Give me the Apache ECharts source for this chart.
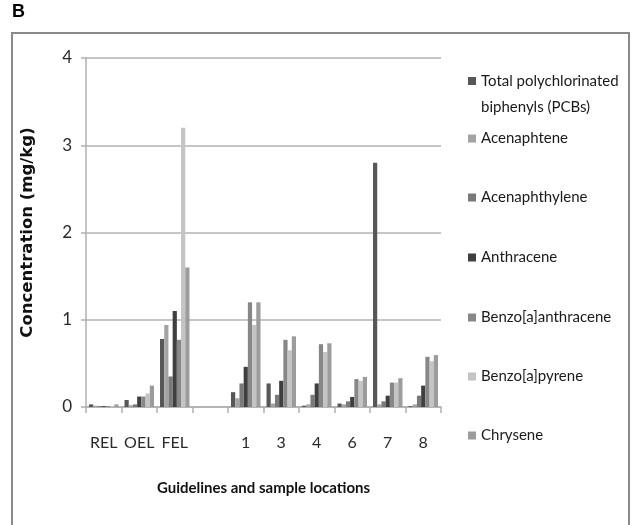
<!DOCTYPE html>
<html>
<head>
<meta charset="utf-8">
<script src="https://cdn.jsdelivr.net/npm/echarts@6/dist/echarts.min.js"></script>
<style>
html,body{margin:0;padding:0;background:#fff;}
#chart{width:632px;height:525px;}
</style>
</head>
<body>
<div id="chart"></div>
<script>
var categories = ['REL', 'OEL', 'FEL', '', '1', '3', '4', '6', '7', '8'];
var seriesNames = ['Total polychlorinated biphenyls (PCBs)', 'Acenaphtene', 'Acenaphthylene', 'Anthracene', 'Benzo[a]anthracene', 'Benzo[a]pyrene', 'Chrysene'];
var pcbs            = [0.03, 0.08, 0.78, null, 0.17, 0.27, 0.015, 0.04, 2.8, 0.01];
var acenaphtene     = [0.015, 0.02, 0.94, null, 0.10, 0.04, 0.03, 0.03, 0.03, 0.03];
var acenaphthylene  = [0.01, 0.03, 0.35, null, 0.27, 0.14, 0.14, 0.065, 0.065, 0.13];
var anthracene      = [0.01, 0.12, 1.10, null, 0.46, 0.30, 0.27, 0.115, 0.13, 0.245];
var benzoAnthracene = [0.01, 0.12, 0.77, null, 1.20, 0.77, 0.72, 0.32, 0.28, 0.575];
var benzoPyrene     = [0.01, 0.155, 3.2, null, 0.94, 0.65, 0.63, 0.30, 0.28, 0.525];
var chrysene        = [0.03, 0.245, 1.60, null, 1.20, 0.81, 0.73, 0.345, 0.33, 0.595];
var yTicks = [0, 1, 2, 3, 4];
var colors = ['#575757', '#a3a3a3', '#7a7a7a', '#3f3f3f', '#878787', '#c4c4c4', '#9c9c9c'];
var values = [pcbs, acenaphtene, acenaphthylene, anthracene, benzoAnthracene, benzoPyrene, chrysene];

var FONT = 'Lato, "Open Sans", sans-serif';
var legendTops = [37, 126, 185, 245, 305, 364, 423];

var chart = echarts.init(document.getElementById('chart'), null, {renderer: 'canvas'});

var legends = seriesNames.map(function (name, i) {
  var l = {
    data: [name],
    left: 463,
    top: legendTops[i],
    orient: 'vertical',
    icon: 'rect',
    itemWidth: 8,
    itemHeight: 8,
    itemGap: 0,
    selectedMode: false,
    textStyle: {fontFamily: FONT, fontSize: 15, color: '#1a1a1a'}
  };
  if (i === 0) {
    l.formatter = function () { return '\nTotal polychlorinated\nbiphenyls (PCBs)'; };
    l.textStyle.lineHeight = 26;
  }
  return l;
});

var option = {
  animation: false,
  backgroundColor: '#ffffff',
  graphic: [
    {type: 'rect', shape: {x: 12, y: 33, width: 617, height: 520}, style: {fill: 'none', stroke: '#8a8a8a', lineWidth: 2}, silent: true},
    {type: 'text', left: 12, top: 3, style: {text: 'B', font: 'bold 18px "Liberation Sans", Arial, sans-serif', fill: '#000'}}
  ],
  legend: legends,
  grid: {left: 86, right: 191, top: 58, bottom: 118, containLabel: false},
  xAxis: {
    type: 'category',
    data: categories,
    name: 'Guidelines and sample locations',
    nameLocation: 'middle',
    nameGap: 74,
    nameTextStyle: {fontFamily: FONT, fontSize: 15, fontWeight: 'bold', color: '#111'},
    axisLine: {lineStyle: {color: '#b0b0b0', width: 1.5}},
    axisTick: {show: true, length: 6, lineStyle: {color: '#b0b0b0', width: 1.5}},
    axisLabel: {fontFamily: FONT, fontSize: 16, color: '#2a2a2a', margin: 28, interval: 0}
  },
  yAxis: {
    type: 'value',
    min: 0, max: 4, interval: 1,
    name: 'Concentration (mg/kg)',
    nameLocation: 'middle',
    nameGap: 50,
    nameTextStyle: {fontFamily: '"DejaVu Sans", sans-serif', fontSize: 16.5, fontWeight: 'bold', color: '#111'},
    axisLine: {show: true, lineStyle: {color: '#b0b0b0', width: 1.5}},
    axisTick: {show: true, length: 5, lineStyle: {color: '#b0b0b0', width: 1.5}},
    axisLabel: {fontFamily: FONT, fontSize: 17, color: '#2a2a2a', margin: 14,
      formatter: function (v) { return yTicks.indexOf(v) >= 0 ? String(v) : ''; }},
    splitLine: {lineStyle: {color: '#b3b3b3', width: 1.5}}
  },
  series: seriesNames.map(function (name, i) {
    return {
      name: name,
      type: 'bar',
      data: values[i],
      barGap: '0%',
      barCategoryGap: '17%',
      itemStyle: {color: colors[i]}
    };
  })
};
chart.setOption(option);
</script>
</body>
</html>
